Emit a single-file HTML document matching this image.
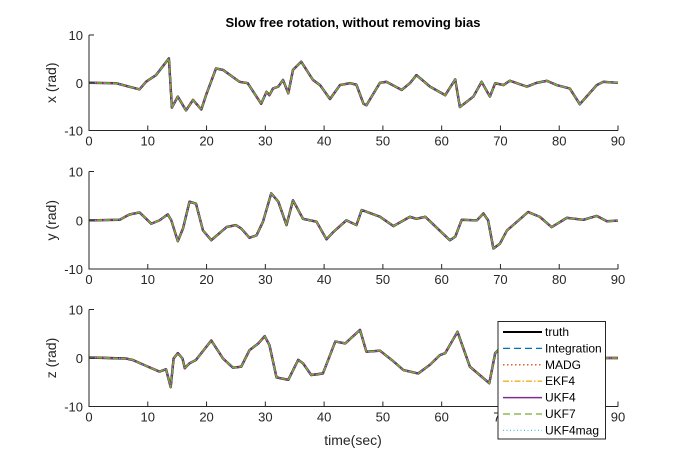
<!DOCTYPE html>
<html><head><meta charset="utf-8"><style>
body{margin:0;background:#fff}
svg{display:block;font-family:"Liberation Sans",Arial,sans-serif}
</style></head><body>
<svg id="chart" width="684" height="457" viewBox="0 0 684 457">
<rect width="684" height="457" fill="#fff"/>
<text x="353" y="27" text-anchor="middle" font-size="13" font-weight="bold" fill="#000">Slow free rotation, without removing bias</text>
<g id="plots"></g>
<text x="353" y="445" text-anchor="middle" font-size="14" fill="#262626">time(sec)</text>
<g id="legend"></g>
</svg>
<script>
const xTicks=[0,10,20,30,40,50,60,70,80,90];
const yTicks=[-10,0,10];
const axisTitles=["x (rad)","y (rad)","z (rad)"];
const xTime=[0,4.6,8.6,9.7,11.4,13.6,14.1,15.1,16.5,17.7,19.1,19.9,21.6,22.8,25.6,27.0,29.3,30.2,30.7,31.3,32.2,33.0,33.9,34.7,36.1,38.1,39.3,41.0,42.7,44.4,45.5,46.7,47.2,49.5,50.6,53.2,54.6,55.7,58.0,60.6,62.3,63.1,65.4,66.8,68.2,69.1,70.5,71.6,74.5,76.2,77.9,79.6,81.8,83.5,86.4,87.5,90];
const xVal=[0,-0.1,-1.4,0.2,1.6,5.1,-5.2,-2.9,-5.8,-3.6,-5.6,-2.6,3.0,2.7,0.2,-0.1,-4.4,-1.9,-2.6,-1.2,-0.8,0.6,-2.2,2.7,4.4,0.6,-0.5,-3.4,-0.5,-0.1,-0.4,-4.4,-4.7,0,0.2,-1.5,-0.1,1.6,-0.8,-2.6,0.7,-5.1,-2.9,0.2,-2.9,-0.1,-0.5,0.4,-0.8,0,0.4,-0.5,-1.2,-4.5,-0.5,0.2,0];
const yTime=[0,5.2,6.9,8.6,10.6,12,13.4,14.0,15.1,16.0,17.1,18.2,19.4,20.8,23.4,25.0,25.9,27.3,28.5,29.6,31.0,32.2,33.6,34.7,36.4,38.7,40.4,41.5,43.8,45.5,46.4,49.5,51.8,54.6,55.7,57.2,61.4,62.3,63.4,66,67.1,67.9,68.8,69.9,71.1,74.7,76.7,78.7,81.3,84.1,86.4,88.1,90];
const yVal=[0,0.1,1.2,1.6,-0.7,0,1.2,0,-4.3,-1.7,3.8,3.4,-2.1,-4.1,-1.4,-1.0,-1.7,-3.6,-3.1,-0.3,5.5,3.8,-1.0,4.1,0.3,-0.3,-3.9,-2.5,0,-1.0,2.1,0.7,-1.2,0.7,0.3,0.7,-4.1,-3.4,0.1,0,1.4,0,-5.8,-4.8,-2.1,1.7,0.7,-1.4,0.5,0.1,0.9,-0.2,-0.1];
const zTime=[0,6.3,7.4,9.7,12.0,13.1,13.9,14.4,15.1,15.9,16.3,17.1,18.2,20.8,22.8,24.5,25.9,27.3,28.8,29.9,30.7,31.9,33.9,35.6,36.4,37.8,39.8,41.9,43.6,46.1,47.2,49.5,51.5,53.5,56,58,59.7,60.6,62.7,64.8,68.1,69.1,69.6,72,76,80,84,87.5,90];
const zVal=[0.1,-0.1,-0.4,-1.6,-2.8,-2.3,-6.0,-0.1,1.0,-0.1,-2.1,-1.1,-0.4,3.6,-0.1,-2.0,-1.8,1.6,3.0,4.5,2.7,-4.0,-4.5,-0.4,-1.1,-3.5,-3.2,3.4,3.0,5.8,1.3,1.5,-0.4,-2.5,-3.2,-1.4,0.6,1.0,5.4,-1.8,-5.2,1.0,1.6,0.5,-0.5,0.3,0,0,0];
const legendLabels=["truth","Integration","MADG","EKF4","UKF4","UKF7","UKF4mag"];
const legendColors=["#000","#0072bd","#d95319","#edb120","#7e2f8e","#77ac30","#4dbeee"];
const legendDash=["","7,4","1.5,2.5","6,2,1.5,2","","7,4","1,2.5"];
const legendWidth=[2,1.3,1.3,1.3,1.5,1.3,1.3];

const NS="http://www.w3.org/2000/svg";
const X0=89,X1=618;
const axes=[{top:35,bot:130.5,t:xTime,v:xVal},{top:171.5,bot:269,t:yTime,v:yVal},{top:309.5,bot:406.5,t:zTime,v:zVal}];
const plots=document.getElementById('plots');
function mk(tag,attrs,parent){const e=document.createElementNS(NS,tag);for(const k in attrs)e.setAttribute(k,attrs[k]);parent.appendChild(e);return e;}
const px=t=>X0+(t/90)*(X1-X0);
axes.forEach((a,i)=>{
  const py=v=>a.bot-(v+10)/20*(a.bot-a.top);
  const g=mk('g',{},plots);
  
  
  const pts=a.t.map((t,j)=>px(t).toFixed(1)+','+py(a.v[j]).toFixed(1)).join(' ');
  const series=[["truth","#000",2.4,""],["ukf4","#7e2f8e",2.0,""],["integration","#4dbeee",1.2,"1,2"],["madg","#d95319",1.2,"1,2.5"],["ukf7","#77ac30",1.6,"5,3"]];
  series.forEach(s=>{
    const l=mk('polyline',{points:pts,fill:'none',stroke:s[1],'stroke-width':s[2],'stroke-dasharray':s[3],'stroke-linejoin':'round'},g);
    
    
  });
  const ax=mk('path',{d:`M${X0},${a.top}V${a.bot}H${X1}`,fill:'none',stroke:'#262626','stroke-width':1},g);
  
  
  xTicks.forEach(t=>{
    mk('line',{x1:px(t),x2:px(t),y1:a.bot,y2:a.bot-5,stroke:'#262626'},g);
    const tx=mk('text',{x:px(t),y:a.bot+15,'text-anchor':'middle','font-size':13,fill:'#262626'},g);
    tx.textContent=t;
    
    
  });
  yTicks.forEach(v=>{
    mk('line',{x1:X0,x2:X0+5,y1:py(v),y2:py(v),stroke:'#262626'},g);
    const tx=mk('text',{x:X0-6,y:py(v)+5,'text-anchor':'end','font-size':13,fill:'#262626'},g);
    tx.textContent=v;
    
    
  });
  const yl=mk('text',{x:0,y:0,transform:`translate(${X0-33},${(a.top+a.bot)/2}) rotate(-90)`,'text-anchor':'middle','font-size':14,fill:'#262626'},g);
  yl.textContent=axisTitles[i];
  
  
});
const lg=document.getElementById('legend');
mk('rect',{x:498,y:321.5,width:107.5,height:117.5,fill:'#fff',stroke:'#262626','stroke-width':1},lg);
legendLabels.forEach((lab,i)=>{
  const y=332+i*16.4;
  const ln=mk('line',{x1:503,x2:542,y1:y,y2:y,stroke:legendColors[i],'stroke-width':legendWidth[i],'stroke-dasharray':legendDash[i]},lg);
  
  
  const tx=mk('text',{x:545,y:y+4,'font-size':12,fill:'#000'},lg);
  tx.textContent=lab;
  
  
});
</script>
</body></html>
